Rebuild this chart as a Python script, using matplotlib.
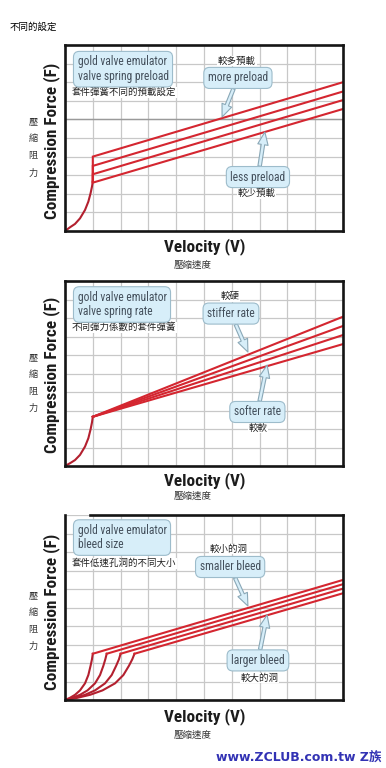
import matplotlib
matplotlib.use("Agg")
import matplotlib.pyplot as plt
from matplotlib import font_manager

# --- data (grid units, 0-10 on both axes) ---
# panel 1: valve spring preload
knee1_vel = [0, 0.18, 0.36, 0.54, 0.72, 0.84, 0.92, 0.97, 1.0]
knee1_force = [0, 0.2, 0.38, 0.68, 1.13, 1.58, 2.03, 2.38, 2.65]
preload_start = [4.0, 3.5, 3.05, 2.6]
preload_end = [8.0, 7.5, 7.04, 6.56]

# panel 2: valve spring rate
knee2_vel = [0, 0.18, 0.36, 0.54, 0.72, 0.84, 0.92, 0.97, 1.0]
knee2_force = [0, 0.15, 0.32, 0.6, 1.05, 1.5, 1.98, 2.35, 2.66]
rate_end = [8.07, 7.57, 7.08, 6.59]

# panel 3: bleed size
bleed_knee_vel = [
    [0, 0.18, 0.36, 0.54, 0.72, 0.84, 0.92, 0.97, 1.0],
    [0, 0.27, 0.54, 0.81, 1.08, 1.26, 1.38, 1.45, 1.5],
    [0, 0.36, 0.72, 1.08, 1.44, 1.68, 1.84, 1.94, 2.0],
    [0, 0.45, 0.9, 1.35, 1.8, 2.1, 2.3, 2.42, 2.5],
]
bleed_knee_force = [0, 0.12, 0.28, 0.52, 0.9, 1.35, 1.85, 2.2, 2.5]
bleed_end = [6.49, 6.26, 6.02, 5.77]

# --- fonts ---
names = {f.name for f in font_manager.fontManager.ttflist}
narrow = next((n for n in ['Liberation Sans Narrow', 'Roboto Condensed', 'Open Sans Condensed']
               if n in names), None)
if narrow:
    latin, scale = narrow, 1.0
else:
    latin, scale = 'Liberation Sans', 0.82
cjk = ['Noto Sans CJK TC', 'DejaVu Sans']

W, H = 386, 768
def fx(px):
    return px / W
def fy(py):
    return 1 - py / H

RED = '#d42630'
KNEE = '#b3202f'
BOX = dict(boxstyle='round,pad=0.35,rounding_size=0.5', fc='#d7eef9', ec='#9dbccb', lw=0.8)
TXT = '#44505c'

fig = plt.figure(figsize=(W / 100, H / 100), dpi=100)


def style(ax):
    ax.set_xlim(0, 10)
    ax.set_ylim(0, 10)
    ax.set_xticks(range(11))
    ax.set_yticks(range(11))
    ax.tick_params(length=0, labelbottom=False, labelleft=False)
    ax.grid(color='#c8c8c8', lw=0.9)
    ax.set_axisbelow(True)
    for s in ax.spines.values():
        s.set_linewidth(1.9)
        s.set_color('#151515')


def callout(ax, text, xy, tip):
    ax.annotate(text, xy=tip, xytext=xy, fontsize=8.3 * scale, family=latin, color=TXT,
                ha='center', va='center', bbox=BOX, zorder=5,
                arrowprops=dict(arrowstyle='simple,head_length=1.1,head_width=0.9,tail_width=0.3',
                                fc='#d7eef9', ec='#8aa8b7', lw=0.8, shrinkA=0, shrinkB=0))


def title_box(ax, text, y):
    ax.text(0.45, y, text, fontsize=8.3 * scale, family=latin, color=TXT,
            ha='left', va='center', bbox=BOX, zorder=5, linespacing=1.15)


def zh(ax, text, x, y, ha='center'):
    ax.text(x, y, text, fontsize=6.8, family=cjk, ha=ha, va='center', color='#222222',
            bbox=dict(fc='white', ec='none', pad=0.5), zorder=4)


def labels(ylab_y, zh_y, vel_y, speed_y):
    fig.text(fx(52), fy(ylab_y), 'Compression Force (F)', rotation=90, ha='center', va='center',
             fontsize=12.3 * scale, family=latin, weight='bold', color='#1c1c1c')
    fig.text(fx(33), fy(zh_y), '壓\n縮\n阻\n力', ha='center', va='center', fontsize=6.6,
             family=cjk, linespacing=2.15, color='#333333')
    fig.text(fx(204.5), fy(vel_y), 'Velocity (V)', ha='center', va='center',
             fontsize=12.3 * scale, family=latin, weight='bold', color='#1c1c1c')
    fig.text(fx(193), fy(speed_y), '壓縮速度', ha='center', va='center', fontsize=6.8,
             family=cjk, color='#333333')


fig.text(fx(10), fy(27), '不同的設定', ha='left', va='center', fontsize=6.8, family=cjk)

# panel 1
ax1 = fig.add_axes([fx(65), fy(231), 278 / W, 186 / H])
style(ax1)
ax1.axhline(6, color='#9a9a9a', lw=1.0, zorder=1)
ax1.plot(knee1_vel, knee1_force, color=KNEE, lw=1.5)
for s, e in zip(preload_start, preload_end):
    ax1.plot([knee1_vel[-1], knee1_vel[-1], 10], [knee1_force[-1], s, e], color=RED, lw=1.5,
             solid_joinstyle='miter')
title_box(ax1, 'gold valve emulator\nvalve spring preload', 8.7)
zh(ax1, '套件彈簧不同的預載設定', 0.25, 7.45, ha='left')
zh(ax1, '較多預載', 6.19, 9.14)
callout(ax1, 'more preload', (6.22, 8.23), (5.65, 6.13))
callout(ax1, 'less preload', (6.94, 2.9), (7.19, 5.32))
zh(ax1, '較少預載', 6.9, 2.0)
labels(141, 147.5, 247, 265)

# panel 2
ax2 = fig.add_axes([fx(65), fy(466), 278 / W, 185 / H])
style(ax2)
ax2.plot(knee2_vel, knee2_force, color=KNEE, lw=1.5)
for e in rate_end:
    ax2.plot([knee2_vel[-1], 10], [knee2_force[-1], e], color=RED, lw=1.5)
title_box(ax2, 'gold valve emulator\nvalve spring rate', 8.73)
zh(ax2, '不同彈力係數的套件彈簧', 0.25, 7.5, ha='left')
zh(ax2, '較硬', 5.94, 9.14)
callout(ax2, 'stiffer rate', (5.97, 8.24), (6.58, 6.16))
callout(ax2, 'softer rate', (6.92, 2.92), (7.27, 5.46))
zh(ax2, '較軟', 6.94, 2.05)
labels(375, 383, 481, 496)

# panel 3
ax3 = fig.add_axes([fx(65), fy(700), 278 / W, 185 / H])
style(ax3)
ax3.spines['top'].set_bounds(0.9, 10)
for kv, e in zip(bleed_knee_vel, bleed_end):
    ax3.plot(kv, bleed_knee_force, color=KNEE, lw=1.5)
    ax3.plot([kv[-1], 10], [bleed_knee_force[-1], e], color=RED, lw=1.5)
title_box(ax3, 'gold valve emulator\nbleed size', 8.78)
zh(ax3, '套件低速孔洞的不同大小', 0.25, 7.4, ha='left')
zh(ax3, '較小的洞', 5.9, 8.16)
callout(ax3, 'smaller bleed', (5.94, 7.19), (6.58, 5.08))
callout(ax3, 'larger bleed', (6.94, 2.14), (7.27, 4.6))
zh(ax3, '較大的洞', 7.0, 1.19)
labels(612, 621, 717, 735)

fig.text(fx(382), fy(758), 'www.ZCLUB.com.tw Z族', ha='right', va='center', fontsize=9,
         weight='bold', family=['DejaVu Sans', 'Noto Sans CJK TC'], color='#3232b4')

fig.savefig('out.png', dpi=100)
